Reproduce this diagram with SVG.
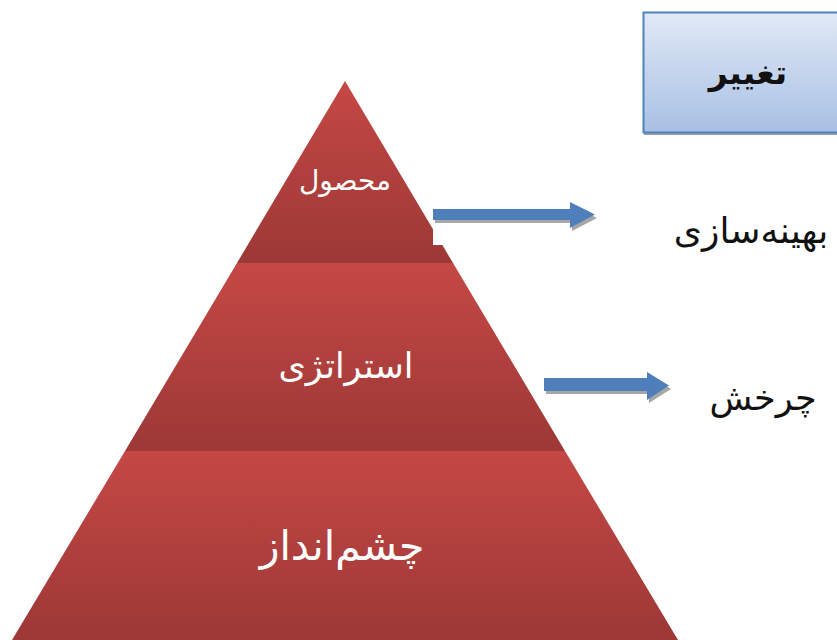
<svg xmlns="http://www.w3.org/2000/svg" width="837" height="640" viewBox="0 0 837 640">
<defs>
<linearGradient id="tier" x1="0" y1="0" x2="0" y2="1">
<stop offset="0" stop-color="#c54845"/>
<stop offset="1" stop-color="#9c3836"/>
</linearGradient>
<linearGradient id="box" x1="0" y1="0" x2="0" y2="1">
<stop offset="0" stop-color="#e1e9f6"/>
<stop offset="1" stop-color="#a8c0e4"/>
</linearGradient>
<style>
.t{font-family:"DejaVu Sans","Noto Sans",sans-serif;text-anchor:middle;direction:rtl}
.w{fill:#ffffff}
.k{fill:#111111}
.arr{fill:#4f7fba}
.sh{fill:#a6a6a6}
</style>
</defs>
<rect width="837" height="640" fill="#ffffff"/>
<g id="change-box">
<rect x="644" y="15" width="200" height="120" fill="#a0a0a0"/>
<rect x="643.5" y="12.5" width="200" height="120" fill="url(#box)" stroke="#4f81bd" stroke-width="2"/>
<text class="t k" x="748" y="84" font-size="33" font-weight="bold">تغییر</text>
</g>
<g id="tier-top">
<polygon points="345,81 453,263 237,263" fill="url(#tier)"/>
<rect x="433" y="228" width="12" height="17" fill="#ffffff"/>
<text class="t w" x="345" y="190" font-size="28">محصول</text>
</g>
<g id="tier-middle">
<polygon points="237,263 453,263 565,451 125,451" fill="url(#tier)"/>
<text class="t w" x="346" y="378" font-size="35">استراتژی</text>
</g>
<g id="tier-bottom">
<polygon points="125,451 565,451 678,640 12,640" fill="url(#tier)"/>
<text class="t w" x="342" y="560" font-size="41">چشم‌انداز</text>
</g>
<g id="connectors">
<polygon class="sh" points="435,212 572,212 572,205 597,218 572,231 572,223 435,223"/>
<polygon class="arr" points="433,209 570,209 570,202 595,214.5 570,228 570,220 433,220"/>
<polygon class="sh" points="546,381 649,381 649,375 671,389 649,403 649,394 546,394"/>
<polygon class="arr" points="544,378 647,378 647,372 669,385.5 647,400 647,391 544,391"/>
</g>
<g id="label-optimization">
<text class="t k" x="751" y="243" font-size="36">بهینه‌سازی</text>
</g>
<g id="label-rotation">
<text class="t k" x="763" y="410" font-size="35">چرخش</text>
</g>
</svg>
